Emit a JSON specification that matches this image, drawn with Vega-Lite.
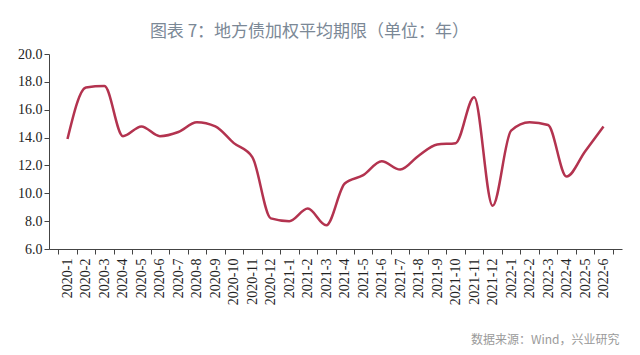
{
  "$schema": "https://vega.github.io/schema/vega-lite/v6.json",
  "width": 573,
  "height": 195,
  "autosize": "none",
  "padding": {"left": 49, "top": 54, "right": 18, "bottom": 106},
  "background": "white",
  "title": {
    "text": "图表 7：地方债加权平均期限（单位：年）",
    "font": "Noto Sans CJK SC",
    "fontSize": 17,
    "fontWeight": "normal",
    "color": "#7b8896",
    "anchor": "middle",
    "dx": -26,
    "offset": 6
  },
  "data": {
    "values": [
      {"month": "2020-1", "value": 13.9},
      {"month": "2020-2", "value": 17.6},
      {"month": "2020-3", "value": 17.7},
      {"month": "2020-4", "value": 14.1},
      {"month": "2020-5", "value": 14.8},
      {"month": "2020-6", "value": 14.1},
      {"month": "2020-7", "value": 14.4},
      {"month": "2020-8", "value": 15.1},
      {"month": "2020-9", "value": 14.8},
      {"month": "2020-10", "value": 13.6},
      {"month": "2020-11", "value": 12.6},
      {"month": "2020-12", "value": 8.2},
      {"month": "2021-1", "value": 8.0},
      {"month": "2021-2", "value": 8.9},
      {"month": "2021-3", "value": 7.7},
      {"month": "2021-4", "value": 10.7},
      {"month": "2021-5", "value": 11.3},
      {"month": "2021-6", "value": 12.3},
      {"month": "2021-7", "value": 11.7},
      {"month": "2021-8", "value": 12.7},
      {"month": "2021-9", "value": 13.5},
      {"month": "2021-10", "value": 13.6},
      {"month": "2021-11", "value": 16.9},
      {"month": "2021-12", "value": 9.1},
      {"month": "2022-1", "value": 14.5},
      {"month": "2022-2", "value": 15.1},
      {"month": "2022-3", "value": 14.9},
      {"month": "2022-4", "value": 11.2},
      {"month": "2022-5", "value": 13.0},
      {"month": "2022-6", "value": 14.8}
    ]
  },
  "mark": {"type": "line", "interpolate": "monotone", "color": "#b3334f", "strokeWidth": 2.5},
  "encoding": {
    "x": {
      "field": "month",
      "type": "ordinal",
      "sort": null,
      "scale": {"paddingInner": 0, "paddingOuter": 0.5},
      "axis": {
        "title": "数据来源：Wind，兴业研究",
        "titleFont": "Noto Sans CJK SC",
        "titleFontSize": 12,
        "titleFontWeight": "normal",
        "titleColor": "#9a9a9a",
        "titleAnchor": "end",
        "titleAlign": "right",
        "titleX": 570,
        "titlePadding": 30,
        "labelAngle": 270,
        "labelAlign": "right",
        "labelBaseline": "middle",
        "labelFont": "Liberation Serif, Times New Roman, serif",
        "labelFontSize": 14,
        "labelColor": "#222",
        "labelPadding": 4,
        "tickBand": "extent",
        "tickSize": 5,
        "tickColor": "#444",
        "domainColor": "#444",
        "grid": false
      }
    },
    "y": {
      "field": "value",
      "type": "quantitative",
      "scale": {"domain": [6, 20], "nice": false, "zero": false},
      "axis": {
        "title": null,
        "values": [6, 8, 10, 12, 14, 16, 18, 20],
        "format": ".1f",
        "labelFont": "Liberation Serif, Times New Roman, serif",
        "labelFontSize": 14,
        "labelColor": "#222",
        "labelPadding": 2,
        "tickSize": 5,
        "tickColor": "#444",
        "domainColor": "#444",
        "grid": false
      }
    }
  },
  "config": {"view": {"stroke": null}}
}
